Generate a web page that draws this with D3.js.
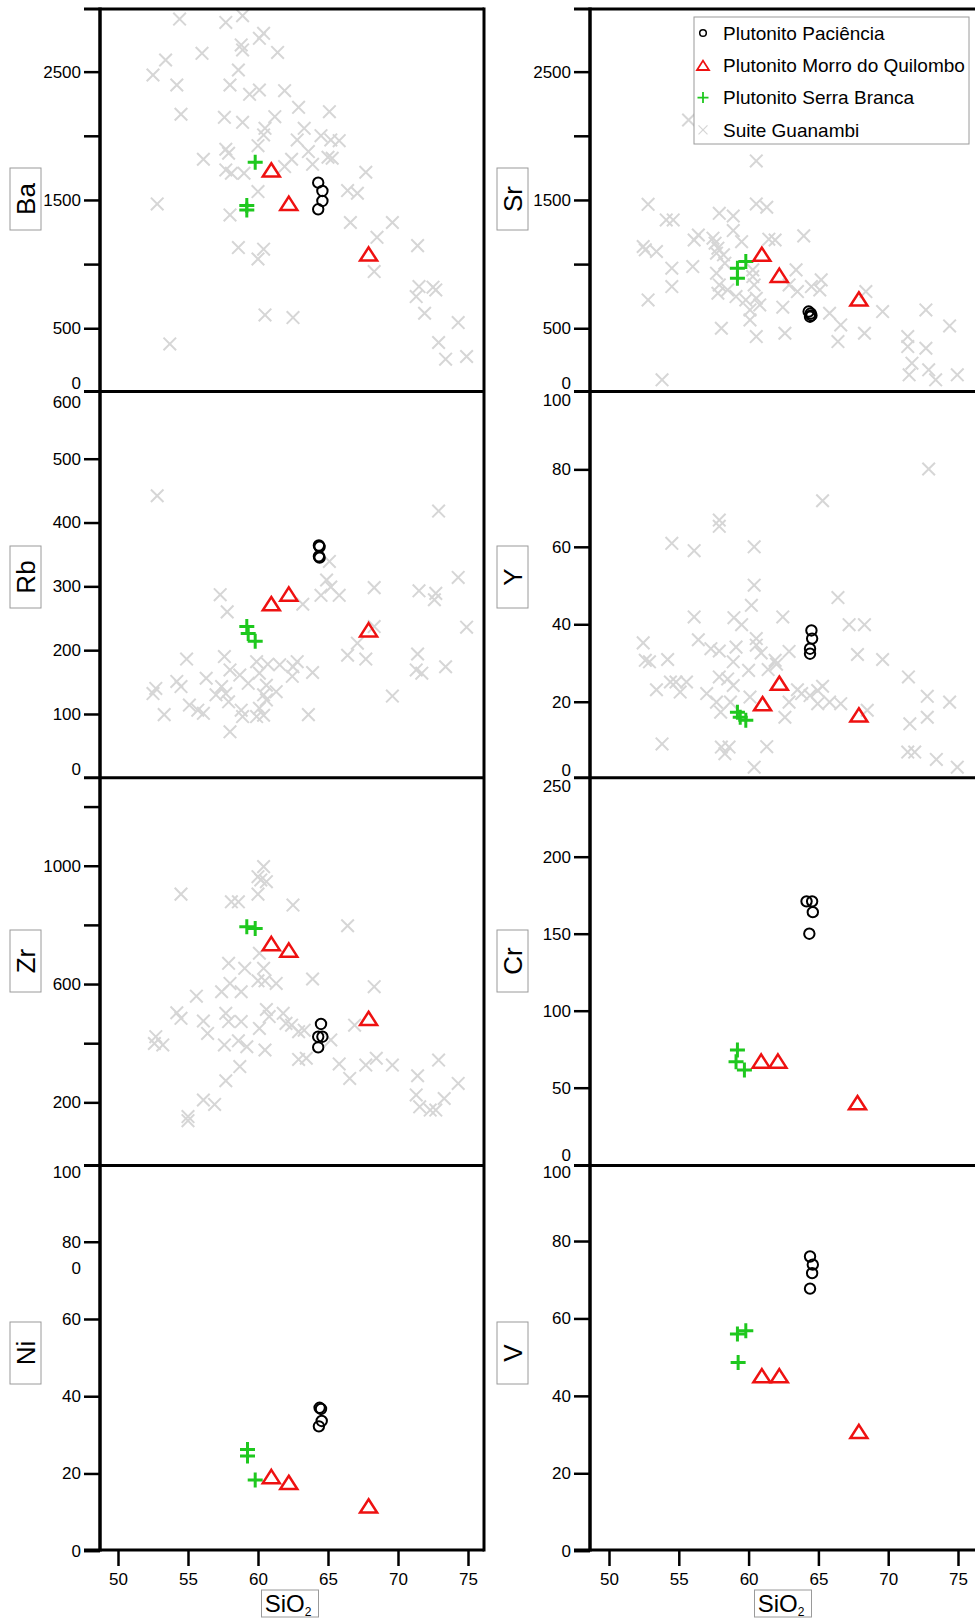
<!DOCTYPE html>
<html>
<head>
<meta charset="utf-8">
<script src="https://cdn.jsdelivr.net/npm/d3@7"></script>
<style>
  body { margin: 0; background: #fff; }
  svg { display: block; font-family: "Liberation Sans", Arial, sans-serif; }
</style>
</head>
<body>
<div id="chart"></div>
<script>
// 1: DATA  (pairs are [SiO2, ppm])
const groups = ["Plutonito Paciência", "Plutonito Morro do Quilombo", "Plutonito Serra Branca", "Suite Guanambi"];
const siTicks = [50, 55, 60, 65, 70, 75];

const guaBa = [[54.4,2910],[57.7,2884],[58.9,2936],[60.4,2799],[60.1,2760],[58.8,2708],[58.9,2669],[61.4,2650],[56.0,2643],[53.4,2591],[52.5,2474],[54.2,2396],[58.0,2396],[58.6,2513],[59.4,2323],[60.1,2357],[61.9,2352],[62.9,2222],[65.1,2188],[54.5,2168],[57.6,2144],[58.9,2105],[61.2,2149],[60.5,2058],[60.4,2007],[63.3,2058],[62.8,1968],[64.5,2001],[65.2,1968],[65.8,1962],[60.0,1923],[57.7,1895],[57.9,1864],[63.6,1877],[65.0,1833],[65.3,1825],[56.1,1817],[62.4,1817],[63.9,1778],[61.9,1760],[57.7,1734],[58.1,1708],[59.0,1708],[67.7,1716],[60.0,1565],[66.4,1573],[67.1,1552],[52.8,1469],[58.0,1383],[66.6,1324],[69.6,1324],[68.5,1209],[71.4,1144],[58.6,1129],[60.4,1116],[60.0,1040],[68.3,942],[71.5,825],[71.3,747],[72.5,820],[72.7,799],[71.9,617],[60.5,604],[62.5,583],[74.3,544],[53.7,378],[72.9,389],[73.4,259],[74.9,280]];
const pacBa = [[64.3,1635],[64.6,1570],[64.6,1492],[64.3,1427]];
const morBa = [[60.95,1734],[62.2,1474],[67.9,1079]];
const serBa = [[59.8,1794],[59.2,1456],[59.2,1422]];

const guaSr = [[55.7,2123],[60.55,1804],[52.8,1466],[60.55,1469],[61.3,1443],[54.1,1344],[54.6,1344],[57.9,1396],[58.9,1375],[56.4,1227],[56.1,1188],[57.45,1202],[58.9,1261],[59.5,1175],[61.45,1194],[61.9,1188],[63.95,1220],[52.45,1137],[52.6,1111],[53.4,1098],[57.8,1124],[58.2,1072],[54.5,968],[56.0,981],[57.7,929],[57.9,838],[60.3,955],[60.3,903],[60.4,838],[63.4,955],[62.9,838],[63.5,786],[64.5,825],[65.2,877],[65.1,799],[54.5,825],[52.8,721],[57.8,773],[58.5,799],[59.1,747],[59.8,721],[60.55,734],[60.1,643],[60.8,682],[60.1,565],[62.45,664],[65.8,617],[66.6,526],[68.4,786],[69.6,630],[72.7,643],[74.4,518],[58.05,500],[60.55,435],[62.6,461],[66.4,396],[68.3,461],[71.4,435],[71.4,357],[72.7,344],[71.7,228],[71.5,137],[72.9,176],[73.4,98],[74.95,137],[53.8,98],[57.6,1163],[57.7,1085],[58.3,1007]];
const pacSr = [[64.3,630],[64.45,615],[64.5,600],[64.4,590]];
const morSr = [[60.95,1077],[62.2,913],[67.9,729]];
const serSr = [[59.2,968],[59.8,1020],[59.2,890]];

const guaRb = [[52.8,442],[72.9,418],[65.1,339],[64.9,310],[65.2,299],[64.5,286],[65.8,286],[68.3,298],[71.5,293],[72.7,289],[72.6,279],[74.3,314],[57.3,287],[57.8,260],[63.2,272],[68.3,237],[74.9,236],[67.1,211],[66.4,192],[67.7,186],[71.4,194],[71.3,169],[71.7,164],[73.4,174],[54.9,186],[57.6,190],[59.9,182],[60.7,178],[61.55,177],[62.5,174],[62.8,182],[63.9,165],[62.45,159],[58.0,169],[58.7,161],[59.3,148],[60.1,164],[56.3,156],[54.2,151],[54.5,143],[52.5,132],[52.7,140],[57.4,143],[57.7,132],[57.0,130],[60.6,145],[61.3,135],[60.4,130],[55.1,114],[55.7,106],[56.1,101],[53.3,99],[57.9,119],[58.8,106],[58.9,96],[60.1,109],[60.4,98],[59.9,96],[63.6,99],[58.0,72],[69.6,128],[60.6,122]];
const pacRb = [[64.35,364],[64.4,362],[64.35,347],[64.4,345]];
const morRb = [[60.95,273],[62.2,288],[67.9,232]];
const serRb = [[59.2,237],[59.3,226],[59.8,214]];

const guaY = [[72.9,80.1],[65.3,71.9],[57.9,66.9],[57.9,65.3],[54.5,60.9],[56.1,59.0],[60.4,60.0],[60.4,50.1],[60.2,44.9],[66.4,46.9],[56.1,41.9],[58.95,41.7],[59.5,39.9],[62.45,41.9],[67.2,39.9],[68.3,39.9],[52.45,35.2],[52.6,30.7],[52.9,30.3],[54.2,30.9],[56.4,36.0],[57.3,33.7],[57.9,33.1],[59.1,34.1],[58.9,30.3],[60.55,36.3],[60.55,34.6],[60.9,32.6],[61.9,30.7],[62.0,29.7],[62.9,33.0],[67.8,32.2],[69.6,30.9],[53.4,23.1],[54.4,25.1],[54.8,25.1],[55.55,25.1],[55.1,22.5],[57.9,26.4],[58.5,25.9],[58.9,24.2],[60.0,28.1],[61.4,28.3],[57.0,22.1],[57.7,19.9],[58.0,17.3],[58.7,19.9],[60.1,21.2],[63.5,23.1],[63.8,22.1],[62.9,19.9],[64.95,22.9],[65.3,24.0],[64.4,21.6],[64.95,19.5],[65.8,19.9],[66.6,19.5],[62.6,16.0],[68.5,17.8],[71.45,26.4],[72.8,21.4],[74.4,19.9],[71.55,14.3],[72.8,16.0],[53.8,9.1],[58.05,8.3],[58.6,8.3],[58.3,6.6],[61.3,8.4],[71.4,7.0],[71.9,7.0],[73.45,5.1],[60.4,3.1],[74.95,3.1]];
const pacY = [[64.5,38.4],[64.55,36.3],[64.4,33.7],[64.4,32.4]];
const morY = [[61.0,19.5],[62.2,24.8],[67.9,16.6]];
const serY = [[59.2,17.3],[59.4,16.0],[59.8,15.2]];

const guaZr = [[60.4,997],[60.0,963],[60.2,952],[60.6,946],[54.5,904],[60.0,904],[58.1,878],[58.6,878],[62.5,867],[66.4,797],[60.1,704],[57.9,670],[59.05,653],[60.4,653],[63.9,617],[60.0,611],[60.5,611],[61.3,602],[58.0,602],[57.4,574],[58.8,574],[55.6,559],[68.3,591],[54.2,503],[54.5,484],[56.1,475],[57.7,501],[57.9,473],[58.8,473],[60.6,514],[60.8,490],[61.8,501],[62.0,467],[62.4,461],[60.1,450],[62.9,439],[63.3,444],[56.4,433],[52.7,422],[52.6,399],[53.2,394],[57.6,394],[58.6,408],[59.2,388],[65.2,411],[66.9,461],[60.5,377],[62.9,345],[63.45,349],[65.8,330],[67.7,326],[68.45,349],[69.6,326],[72.9,343],[58.7,321],[66.55,281],[57.7,273],[71.4,290],[71.3,225],[74.3,264],[73.3,213],[71.55,185],[72.3,174],[72.7,174],[56.1,208],[56.9,193],[55.0,152],[55.0,138]];
const pacZr = [[64.5,465],[64.3,422],[64.6,422],[64.3,386]];
const morZr = [[60.95,737],[62.2,715],[67.9,484]];
const serZr = [[59.2,794],[59.8,788]];

const pacCr = [[64.15,171],[64.55,171],[64.6,164],[64.35,150]];
const morCr = [[60.9,67.3],[62.1,67.3],[67.8,40.3]];
const serCr = [[59.2,74.4],[59.1,66.9],[59.7,61.5]];

const pacNi = [[64.4,37.0],[64.5,36.7],[64.55,33.6],[64.35,32.2]];
const morNi = [[60.95,19.2],[62.2,17.7],[67.9,11.6]];
const serNi = [[59.25,26.2],[59.25,24.5],[59.8,18.3]];

const pacV = [[64.4,76.0],[64.6,73.9],[64.55,71.7],[64.4,67.7]];
const morV = [[60.95,45.2],[62.2,45.2],[67.9,30.8]];
const serV = [[59.2,56.0],[59.8,56.8],[59.25,48.6]];

// 2: LAYOUT
const W = 975, H = 1619;
const cols = [
  { axisX: 100, right: 484, r0: 118, r1: 468, boxX: 10, siX: 290 },
  { axisX: 590, right: 980, r0: 609, r1: 958, boxX: 497, siX: 783 }
];
const rowLines = [9, 391.5, 777.8, 1165.5, 1550];
const boxY = [199, 577, 961, 1353];

const panels = [
  { el: "Ba", col: 0, row: 0, dom: [0, 3000], rng: [392.4, 7.5], ticks: [500, 1000, 1500, 2000, 2500], labels: [500, 1500, 2500], edge: [[0, -9]], data: [guaBa, pacBa, morBa, serBa] },
  { el: "Sr", col: 1, row: 0, dom: [0, 3000], rng: [392.4, 7.5], ticks: [500, 1000, 1500, 2000, 2500], labels: [500, 1500, 2500], edge: [[0, -9]], data: [guaSr, pacSr, morSr, serSr] },
  { el: "Rb", col: 0, row: 1, dom: [0, 600], rng: [777.8, 394.9], ticks: [100, 200, 300, 400, 500], labels: [100, 200, 300, 400, 500], edge: [[600, 8], [0, -8]], data: [guaRb, pacRb, morRb, serRb] },
  { el: "Y", col: 1, row: 1, dom: [0, 100], rng: [779.2, 391.9], ticks: [20, 40, 60, 80], labels: [20, 40, 60, 80], edge: [[100, 9], [0, -9]], data: [guaY, pacY, morY, serY] },
  { el: "Zr", col: 0, row: 2, dom: [0, 1300], rng: [1161.5, 777], ticks: [200, 400, 600, 800, 1000, 1200], labels: [200, 600, 1000], edge: [], data: [guaZr, pacZr, morZr, serZr] },
  { el: "Cr", col: 1, row: 2, dom: [0, 250], rng: [1164.7, 779.7], ticks: [50, 100, 150, 200], labels: [50, 100, 150, 200], edge: [[250, 7], [0, -9]], data: [[], pacCr, morCr, serCr] },
  { el: "Ni", col: 0, row: 3, dom: [0, 100], rng: [1550.7, 1164.5], ticks: [0, 20, 40, 60, 80], labels: [0, 20, 40, 60, 80], edge: [[100, 8]], data: [[], pacNi, morNi, serNi] },
  { el: "V", col: 1, row: 3, dom: [0, 100], rng: [1550.7, 1163.6], ticks: [0, 20, 40, 60, 80], labels: [0, 20, 40, 60, 80], edge: [[100, 9]], data: [[], pacV, morV, serV] }
];

// marker shapes, drawn as stroked paths
const shapes = {
  times: s => `M${-s},${-s}L${s},${s}M${-s},${s}L${s},${-s}`,
  plus: s => `M${-s},0H${s}M0,${-s}V${s}`,
  tri: s => `M0,${-s * 0.78}L${s},${s * 0.78}L${-s},${s * 0.78}Z`
};
const gray = "#d6d6d6", red = "#ee1111", green = "#1ec81e";

const svg = d3.select("#chart").append("svg")
  .attr("width", W)
  .attr("height", H);

// 3: PANELS
panels.forEach(p => {
  const c = cols[p.col];
  const x = d3.scaleLinear().domain([50, 75]).range([c.r0, c.r1]);
  const y = d3.scaleLinear().domain(p.dom).range(p.rng);
  const g = svg.append("g");

  // y axis ticks
  const ax = g.append("g")
    .attr("transform", `translate(${c.axisX},0)`)
    .call(d3.axisLeft(y).tickValues(p.ticks).tickSize(16).tickPadding(3)
      .tickFormat(d => p.labels.includes(d) ? d : ""));
  ax.select(".domain").remove();
  ax.selectAll("line").attr("stroke-width", 2.5);
  ax.attr("font-size", 17).attr("font-family", null);

  p.edge.forEach(([v, dy]) => {
    g.append("text")
      .attr("x", c.axisX - 19)
      .attr("y", y(v) + dy)
      .attr("dy", "0.32em")
      .attr("text-anchor", "end")
      .attr("font-size", 17)
      .text(v);
  });

  // points
  const [gua, pac, mor, ser] = p.data;
  g.append("g").selectAll("path").data(gua).join("path")
    .attr("transform", d => `translate(${x(d[0])},${y(d[1])})`)
    .attr("d", shapes.times(6.3))
    .attr("fill", "none").attr("stroke", gray).attr("stroke-width", 2);
  g.append("g").selectAll("path").data(ser).join("path")
    .attr("transform", d => `translate(${x(d[0])},${y(d[1])})`)
    .attr("d", shapes.plus(7.5))
    .attr("fill", "none").attr("stroke", green).attr("stroke-width", 3);
  g.append("g").selectAll("path").data(mor).join("path")
    .attr("transform", d => `translate(${x(d[0])},${y(d[1])})`)
    .attr("d", shapes.tri(8.5))
    .attr("fill", "none").attr("stroke", red).attr("stroke-width", 2.5);
  g.append("g").selectAll("circle").data(pac).join("circle")
    .attr("cx", d => x(d[0])).attr("cy", d => y(d[1])).attr("r", 5.2)
    .attr("fill", "none").attr("stroke", "#000").attr("stroke-width", 2);

  // element label box
  const bx = c.boxX, by = boxY[p.row];
  g.append("rect")
    .attr("x", bx).attr("y", by - 31).attr("width", 31).attr("height", 62)
    .attr("fill", "#fff").attr("stroke", "#9a9a9a").attr("stroke-width", 1);
  g.append("text")
    .attr("transform", `translate(${bx + 15.5},${by}) rotate(-90)`)
    .attr("text-anchor", "middle")
    .attr("dy", "0.36em")
    .attr("font-size", 26)
    .text(p.el);
});

// 4: FRAMES AND X AXES
cols.forEach(c => {
  rowLines.forEach(ly => {
    svg.append("line")
      .attr("x1", c.axisX - 16).attr("x2", c.right)
      .attr("y1", ly).attr("y2", ly)
      .attr("stroke", "#000").attr("stroke-width", 3);
  });
  svg.append("line")
    .attr("x1", c.axisX).attr("x2", c.axisX)
    .attr("y1", rowLines[0] - 1.5).attr("y2", rowLines[4] + 1.5)
    .attr("stroke", "#000").attr("stroke-width", 3.5);
  if (c.right < W) {
    svg.append("line")
      .attr("x1", c.right).attr("x2", c.right)
      .attr("y1", rowLines[0] - 1.5).attr("y2", rowLines[4] + 1.5)
      .attr("stroke", "#000").attr("stroke-width", 3);
  }

  const x = d3.scaleLinear().domain([50, 75]).range([c.r0, c.r1]);
  const xa = svg.append("g")
    .attr("transform", `translate(0,${rowLines[4]})`)
    .call(d3.axisBottom(x).tickValues(siTicks).tickSize(16).tickPadding(7));
  xa.select(".domain").remove();
  xa.selectAll("line").attr("stroke-width", 2.5);
  xa.attr("font-size", 17).attr("font-family", null);

  // SiO2 label
  svg.append("rect")
    .attr("x", c.siX - 28.5).attr("y", 1590).attr("width", 57).attr("height", 27)
    .attr("fill", "#fff").attr("stroke", "#9a9a9a").attr("stroke-width", 1);
  const t = svg.append("text")
    .attr("x", c.siX - 2).attr("y", 1612)
    .attr("text-anchor", "middle")
    .attr("font-size", 24)
    .text("SiO");
  t.append("tspan").attr("font-size", 12).attr("dy", 4).text("2");
});

// stray label left over in the Ni panel
svg.append("text")
  .attr("x", 81).attr("y", 1269).attr("dy", "0.32em")
  .attr("text-anchor", "end").attr("font-size", 17)
  .text("0");

// 5: LEGEND
const lg = svg.append("g").attr("transform", "translate(694,17)");
lg.append("rect")
  .attr("width", 275).attr("height", 127)
  .attr("fill", "#fff").attr("stroke", "#9a9a9a").attr("stroke-width", 1);
const legItems = [
  { d: null, stroke: "#000", sw: 1.5 },
  { d: shapes.tri(6), stroke: red, sw: 1.8 },
  { d: shapes.plus(5.5), stroke: green, sw: 1.8 },
  { d: shapes.times(4.5), stroke: gray, sw: 1.3 }
];
legItems.forEach((it, i) => {
  const row = lg.append("g").attr("transform", `translate(9,${16 + i * 32.3})`);
  if (it.d) {
    row.append("path").attr("d", it.d)
      .attr("fill", "none").attr("stroke", it.stroke).attr("stroke-width", it.sw);
  } else {
    row.append("circle").attr("r", 3.3)
      .attr("fill", "none").attr("stroke", it.stroke).attr("stroke-width", it.sw);
  }
  row.append("text")
    .attr("x", 20).attr("dy", "0.35em")
    .attr("font-size", 19)
    .text(groups[i]);
});
</script>
</body>
</html>
